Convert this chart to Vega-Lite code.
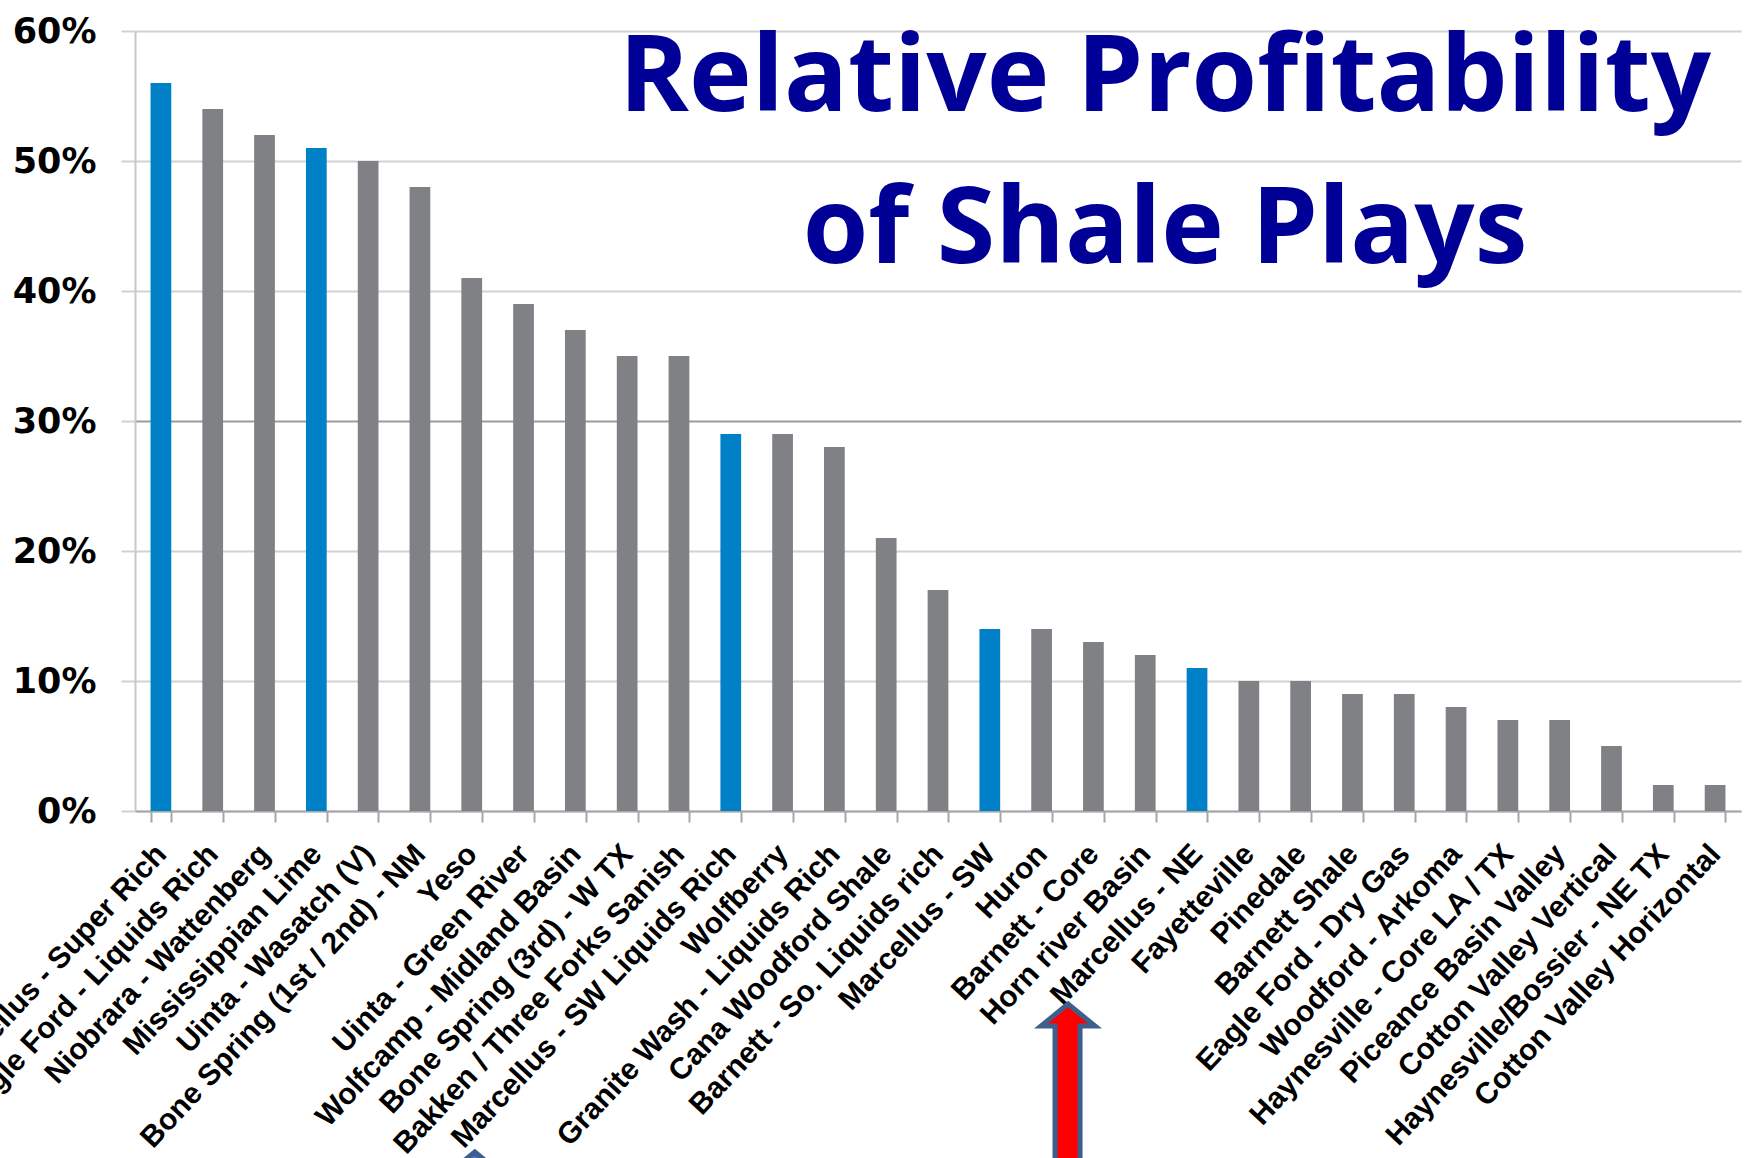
{
  "$schema": "https://vega.github.io/schema/vega-lite/v6.json",
  "autosize": {"type": "none"},
  "width": 1606,
  "height": 780,
  "padding": {"left": 135, "top": 31, "right": 11, "bottom": 347},
  "background": "white",
  "title": {
    "text": ["Relative Profitability", "of Shale Plays"],
    "font": "Open Sans",
    "fontWeight": "bold",
    "fontSize": 106,
    "lineHeight": 152,
    "color": "#000096",
    "anchor": "middle",
    "frame": "group",
    "baseline": "alphabetic",
    "offset": 0,
    "dx": 227,
    "dy": 355
  },
  "datasets": {
    "plays": [
      {"play": "Marcellus - Super Rich", "value": 0.56, "group": "Marcellus"},
      {"play": "Eagle Ford - Liquids Rich", "value": 0.54, "group": "Other"},
      {"play": "Niobrara - Wattenberg", "value": 0.52, "group": "Other"},
      {"play": "Mississippian Lime", "value": 0.51, "group": "Marcellus"},
      {"play": "Uinta - Wasatch (V)", "value": 0.50, "group": "Other"},
      {"play": "Bone Spring (1st / 2nd) - NM", "value": 0.48, "group": "Other"},
      {"play": "Yeso", "value": 0.41, "group": "Other"},
      {"play": "Uinta - Green River", "value": 0.39, "group": "Other"},
      {"play": "Wolfcamp - Midland Basin", "value": 0.37, "group": "Other"},
      {"play": "Bone Spring (3rd) - W TX", "value": 0.35, "group": "Other"},
      {"play": "Bakken / Three Forks Sanish", "value": 0.35, "group": "Other"},
      {"play": "Marcellus - SW Liquids Rich", "value": 0.29, "group": "Marcellus"},
      {"play": "Wolfberry", "value": 0.29, "group": "Other"},
      {"play": "Granite Wash - Liquids Rich", "value": 0.28, "group": "Other"},
      {"play": "Cana Woodford Shale", "value": 0.21, "group": "Other"},
      {"play": "Barnett - So. Liquids rich", "value": 0.17, "group": "Other"},
      {"play": "Marcellus - SW", "value": 0.14, "group": "Marcellus"},
      {"play": "Huron", "value": 0.14, "group": "Other"},
      {"play": "Barnett - Core", "value": 0.13, "group": "Other"},
      {"play": "Horn river Basin", "value": 0.12, "group": "Other"},
      {"play": "Marcellus - NE", "value": 0.11, "group": "Marcellus"},
      {"play": "Fayetteville", "value": 0.10, "group": "Other"},
      {"play": "Pinedale", "value": 0.10, "group": "Other"},
      {"play": "Barnett Shale", "value": 0.09, "group": "Other"},
      {"play": "Eagle Ford - Dry Gas", "value": 0.09, "group": "Other"},
      {"play": "Woodford - Arkoma", "value": 0.08, "group": "Other"},
      {"play": "Haynesville - Core LA / TX", "value": 0.07, "group": "Other"},
      {"play": "Piceance Basin Valley", "value": 0.07, "group": "Other"},
      {"play": "Cotton Valley Vertical", "value": 0.05, "group": "Other"},
      {"play": "Haynesville/Bossier - NE TX", "value": 0.02, "group": "Other"},
      {"play": "Cotton Valley Horizontal", "value": 0.02, "group": "Other"}
    ],
    "arrows": [
      {"play": "Marcellus - NE", "value": 0, "arrow": "red"},
      {"play": "Marcellus - SW Liquids Rich", "value": 0, "arrow": "blue"}
    ]
  },
  "layer": [
    {
      "data": {"name": "plays"},
      "mark": {"type": "bar"},
      "encoding": {
        "x": {
          "field": "play",
          "type": "nominal",
          "sort": null,
          "scale": {"paddingInner": 0.6, "paddingOuter": 0.3},
          "axis": {
            "title": null,
            "labelAngle": -47,
            "labelBaseline": "middle",
            "labelFont": "Liberation Sans",
            "labelFontWeight": "bold",
            "labelFontSize": 30,
            "labelColor": "#000000",
            "labelLimit": 1000,
            "labelOverlap": false,
            "labelPadding": 27,
            "tickBand": "extent",
            "tickSize": 11,
            "tickColor": "#a6a6a6",
            "tickWidth": 2,
            "domainColor": "#a6a6a6",
            "domainWidth": 2,
            "grid": false
          }
        },
        "y": {
          "field": "value",
          "type": "quantitative",
          "scale": {"domain": [0, 0.6], "nice": false},
          "axis": {
            "title": null,
            "values": [0, 0.1, 0.2, 0.3, 0.4, 0.5, 0.6],
            "format": ".0%",
            "labelFont": "DejaVu Sans",
            "labelFontWeight": "bold",
            "labelFontSize": 35,
            "labelColor": "#000000",
            "labelPadding": 25,
            "tickSize": 14,
            "tickColor": "#d0d0d0",
            "tickWidth": 2,
            "domainColor": "#c8c8c8",
            "domainWidth": 2,
            "grid": true,
            "gridColor": {"condition": {"test": "abs(datum.value - 0.3) < 0.001", "value": "#9c9c9c"}, "value": "#d2d2d2"},
            "gridWidth": 2
          }
        },
        "color": {
          "field": "group",
          "type": "nominal",
          "scale": {"domain": ["Marcellus", "Other"], "range": ["#0080C6", "#808185"]},
          "legend": null
        }
      }
    },
    {
      "data": {"name": "arrows"},
      "transform": [{"filter": "datum.arrow == 'red'"}],
      "mark": {
        "type": "point",
        "filled": true,
        "clip": false,
        "size": 4,
        "opacity": 1,
        "shape": "M-129,193L-102,215L-117,215L-117,350L-142,350L-142,215L-156,215Z",
        "fill": "#FF0000",
        "stroke": "#3E5F8C",
        "strokeWidth": 5,
        "strokeJoin": "miter"
      },
      "encoding": {
        "x": {"field": "play", "type": "nominal", "sort": null},
        "y": {"field": "value", "type": "quantitative"}
      }
    },
    {
      "data": {"name": "arrows"},
      "transform": [{"filter": "datum.arrow == 'blue'"}],
      "mark": {
        "type": "point",
        "filled": true,
        "clip": false,
        "size": 4,
        "opacity": 1,
        "shape": "M-256,341L-229,363L-244,363L-244,500L-269,500L-269,363L-283,363Z",
        "fill": "#4472C4",
        "stroke": "#3E5F8C",
        "strokeWidth": 5,
        "strokeJoin": "miter"
      },
      "encoding": {
        "x": {"field": "play", "type": "nominal", "sort": null},
        "y": {"field": "value", "type": "quantitative"}
      }
    }
  ],
  "config": {
    "view": {"stroke": null}
  }
}
